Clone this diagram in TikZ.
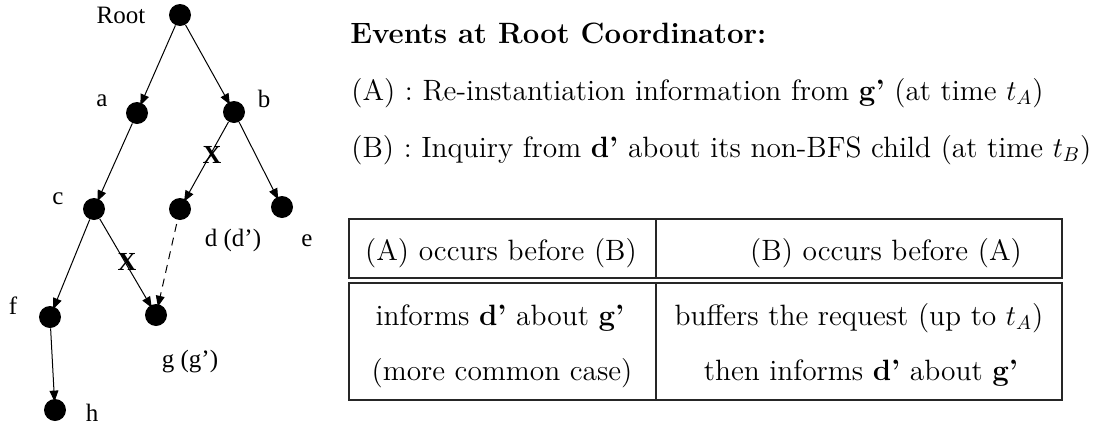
\documentclass[tikz,border=0pt]{standalone}
\usepackage{fontspec}
\newfontfamily\tms{Liberation Serif}
\usetikzlibrary{arrows.meta}
\begin{document}
\begin{tikzpicture}[x=0.5pt,y=-0.5pt,
  dot/.style={circle,fill=black,inner sep=0pt,minimum size=11pt},
  lbl/.style={font=\tms\fontsize{12.5}{15}\selectfont,inner sep=0pt},
  cut/.style={font=\tms\bfseries\fontsize{13}{15}\selectfont,inner sep=0pt},
  tree/.style={-{Triangle[length=5.5pt,width=4.4pt]},line width=0.5pt,shorten >=-1.5pt},
  body/.style={font=\fontsize{14.7}{17}\selectfont,inner sep=0pt},
  txt/.style={body,anchor=base west},
  cell/.style={body,anchor=base},
  rule/.style={line width=0.6pt,draw=black!85}]
\useasboundingbox (0,0) rectangle (1104,429);

% tree nodes
\node[dot] (root) at (180,15) {};
\node[dot] (a) at (137,113) {};
\node[dot] (b) at (234,112) {};
\node[dot] (c) at (94,209) {};
\node[dot] (d) at (180,209) {};
\node[dot] (e) at (282,207) {};
\node[dot] (f) at (50,317) {};
\node[dot] (g) at (156,315) {};
\node[dot] (h) at (55,410) {};

% node names
\node[lbl] (lroot) at (121,15) {Root};
\node[lbl] (la) at (102,101) {a};
\node[lbl] (lb) at (264,99) {b};
\node[lbl] (lc) at (58,199) {c};
\node[lbl] (ld) at (233,240) {d (d’)};
\node[lbl] (le) at (307,241) {e};
\node[lbl] (lf) at (13,306) {f};
\node[lbl] (lg) at (190,362) {g (g’)};
\node[lbl] (lh) at (92,413) {h};

% tree edges
\draw[tree] (root) -- (a);
\draw[tree] (root) -- (b);
\draw[tree] (a) -- (c);
\draw[tree] (b) -- (d);
\draw[tree] (b) -- (e);
\draw[tree] (c) -- (f);
\draw[tree] (c) -- (g);
\draw[tree] (f) -- (h);
\draw[tree,dash pattern=on 4pt off 3pt,shorten <=2pt] (d) -- (g);

% broken links
\node[cut] (xbd) at (212,155) {X};
\node[cut] (xcg) at (127,262) {X};

% event list
\node[txt] (head) at (350,43) {\textbf{Events at Root Coordinator:}};
\node[txt] (evA) at (351,100) {(A) : Re-instantiation information from \textbf{g'} (at time $t_A$)};
\node[txt] (evB) at (351,157) {(B) : Inquiry from \textbf{d'} about its non-BFS child (at time $t_B$)};

% table frames
\draw[rule] (349,219) rectangle (1062,278);
\draw[rule] (656,219) -- (656,278);
\draw[rule] (349,283) rectangle (1062,400);
\draw[rule] (656,283) -- (656,400);

% table entries
\node[cell] (h1) at (501,260) {(A) occurs before (B)};
\node[cell] (h2) at (886,260) {(B) occurs before (A)};
\node[cell] (r1) at (500,325) {informs \textbf{d'} about \textbf{g'}};
\node[cell] (r2) at (859,325) {buffers the request (up to $t_A$)};
\node[cell] (s1) at (502,380) {(more common case)};
\node[cell] (s2) at (861,380) {then informs \textbf{d'} about \textbf{g'}};
\end{tikzpicture}
\end{document}
